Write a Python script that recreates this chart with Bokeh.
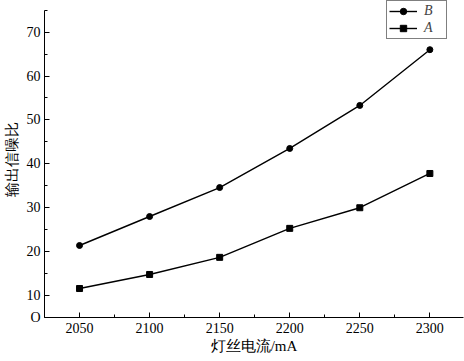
from bokeh.plotting import figure
from bokeh.models import FixedTicker, Legend, LegendItem, Range1d
from bokeh.embed import file_html
from bokeh.resources import INLINE

# Data
current_mA = [2050, 2100, 2150, 2200, 2250, 2300]
snr_B = [21.4, 28.0, 34.6, 43.5, 53.3, 66.0]
snr_A = [11.6, 14.8, 18.7, 25.3, 30.0, 37.8]
x_ticks = [2050, 2100, 2150, 2200, 2250, 2300]
x_minor = [2025, 2075, 2125, 2175, 2225, 2275, 2325]
y_ticks = [5, 10, 20, 30, 40, 50, 60, 70]
y_minor = [15, 25, 35, 45, 55, 65, 75]
y_tick_overrides = {5: "O"}
x_title = "灯丝电流/mA"
y_title = "输出信噪比"

SERIF = "Liberation Serif"

p = figure(width=464, height=361, output_backend="svg", toolbar_location=None,
           x_range=Range1d(2025, 2324), y_range=Range1d(5, 77.2),
           min_border_left=44, min_border_right=1, min_border_top=0, min_border_bottom=44)
p.outline_line_color = None
p.grid.visible = False
p.background_fill_color = "white"
p.border_fill_color = "white"

for ax in (p.xaxis[0], p.yaxis[0]):
    ax.axis_line_color = "black"
    ax.axis_line_width = 1
    ax.major_tick_in = 5
    ax.major_tick_out = 0
    ax.minor_tick_in = 3
    ax.minor_tick_out = 0
    ax.major_tick_line_color = "black"
    ax.minor_tick_line_color = "black"
    ax.major_label_text_font = SERIF
    ax.major_label_text_font_size = "14px"
    ax.major_label_text_color = "black"
    ax.axis_label_text_font = SERIF
    ax.axis_label_text_font_size = "15px"
    ax.axis_label_text_font_style = "normal"
    ax.axis_label_text_color = "black"

p.xaxis.ticker = FixedTicker(ticks=x_ticks, minor_ticks=x_minor)
p.yaxis.ticker = FixedTicker(ticks=y_ticks, minor_ticks=y_minor)
p.yaxis.major_label_overrides = y_tick_overrides
p.yaxis.bounds = (5, 75)
p.xaxis.axis_label = x_title
p.yaxis.axis_label = y_title
p.xaxis.major_label_standoff = 5
p.xaxis.axis_label_standoff = 2
p.yaxis.major_label_standoff = 4
p.yaxis.axis_label_standoff = 4

lb = p.line(current_mA, snr_B, line_color="black", line_width=1.4)
sb = p.scatter(current_mA, snr_B, marker="circle", size=6, fill_color="black", line_color="black")
la = p.line(current_mA, snr_A, line_color="black", line_width=1.4)
sa = p.scatter(current_mA, snr_A, marker="square", size=6, fill_color="black", line_color="black")

legend = Legend(items=[LegendItem(label="B", renderers=[lb, sb]),
                       LegendItem(label="A", renderers=[la, sa])],
                location=(342, 278))
legend.label_text_font = SERIF
legend.label_text_font_style = "italic"
legend.label_text_font_size = "14px"
legend.border_line_color = "black"
legend.border_line_width = 1
legend.padding = 2
legend.spacing = 1
legend.margin = 0
legend.glyph_width = 28
legend.glyph_height = 16
legend.label_height = 16
legend.label_standoff = 7
legend.background_fill_alpha = 1
p.add_layout(legend)

open("out.html", "w").write(file_html(p, INLINE))
